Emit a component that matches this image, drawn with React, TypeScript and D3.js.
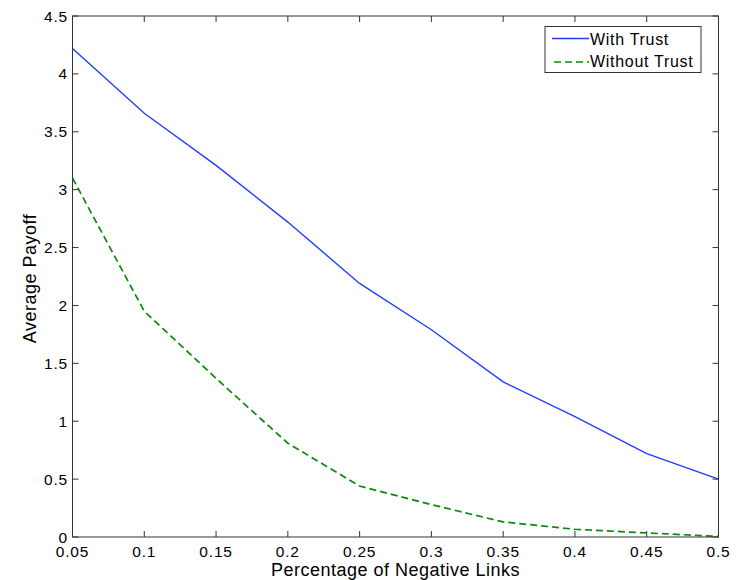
import React from "react";
import * as d3 from "d3";

const xValues = [0.05, 0.1, 0.15, 0.2, 0.25, 0.3, 0.35, 0.4, 0.45, 0.5];
const withTrust = [4.22, 3.66, 3.21, 2.72, 2.19, 1.79, 1.34, 1.04, 0.72, 0.5];
const withoutTrust = [3.1, 1.95, 1.37, 0.81, 0.44, 0.28, 0.13, 0.067, 0.035, 0.005];
const xTicks = [0.05, 0.1, 0.15, 0.2, 0.25, 0.3, 0.35, 0.4, 0.45, 0.5];
const yTicks = [0, 0.5, 1, 1.5, 2, 2.5, 3, 3.5, 4, 4.5];
const seriesNames = ["With Trust", "Without Trust"];

const W = 736, H = 580;
const L = 72.5, R = 718.5, T = 16, B = 537;
const font = "Arial, 'Liberation Sans', sans-serif";

export default function App() {
  const x = d3.scaleLinear().domain([0.05, 0.5]).range([L, R]);
  const y = d3.scaleLinear().domain([0, 4.5]).range([B, T]);
  const line = d3.line<number>().x((_, i) => x(xValues[i])).y((d) => y(d));
  const tk = 6;
  const fmt = (v: number) => String(v);
  return (
    <svg width={W} height={H} style={{ position: "absolute", left: 0, top: 0, background: "#fff" }}>
      <rect x={0} y={0} width={W} height={H} fill="#fff" />
      <path d={line(withTrust) || ""} fill="none" stroke="#1f3fff" strokeWidth={1.4} />
      <path d={line(withoutTrust) || ""} fill="none" stroke="#0b8a0b" strokeWidth={1.7} strokeDasharray="7,4" />
      <rect x={L} y={T} width={R - L} height={B - T} fill="none" stroke="#333" strokeWidth={1} />
      {xTicks.map((t) => (
        <g key={"x" + t}>
          <line x1={x(t)} x2={x(t)} y1={B} y2={B - tk} stroke="#333" />
          <line x1={x(t)} x2={x(t)} y1={T} y2={T + tk} stroke="#333" />
          <text x={x(t)} y={557} textAnchor="middle" fontFamily={font} fontSize={15.5} letterSpacing={0.8} fill="#000">
            {fmt(t)}
          </text>
        </g>
      ))}
      {yTicks.map((t) => (
        <g key={"y" + t}>
          <line x1={L} x2={L + tk} y1={y(t)} y2={y(t)} stroke="#333" />
          <line x1={R} x2={R - tk} y1={y(t)} y2={y(t)} stroke="#333" />
          <text x={68} y={y(t) + 5.5} textAnchor="end" fontFamily={font} fontSize={15.5} letterSpacing={0.8} fill="#000">
            {fmt(t)}
          </text>
        </g>
      ))}
      <text x={(L + R) / 2} y={576} textAnchor="middle" fontFamily={font} fontSize={18} letterSpacing={0.5} fill="#000">
        Percentage of Negative Links
      </text>
      <text
        transform={`translate(36,${(T + B) / 2 + 2}) rotate(-90)`}
        textAnchor="middle"
        fontFamily={font}
        fontSize={18}
        letterSpacing={0.5}
        fill="#000"
      >
        Average Payoff
      </text>
      <g>
        <rect x={545} y={26.5} width={156} height={46} fill="#fff" stroke="#333" strokeWidth={1} />
        <line x1={552} x2={589} y1={38.5} y2={38.5} stroke="#1f3fff" strokeWidth={1.4} />
        <line x1={554} x2={589} y1={62} y2={62} stroke="#0b8a0b" strokeWidth={1.4} strokeDasharray="7,4" />
        <text x={590} y={45} fontFamily={font} fontSize={16} letterSpacing={0.7} fill="#000">{seriesNames[0]}</text>
        <text x={590} y={67} fontFamily={font} fontSize={16} letterSpacing={0.7} fill="#000">{seriesNames[1]}</text>
      </g>
    </svg>
  );
}
